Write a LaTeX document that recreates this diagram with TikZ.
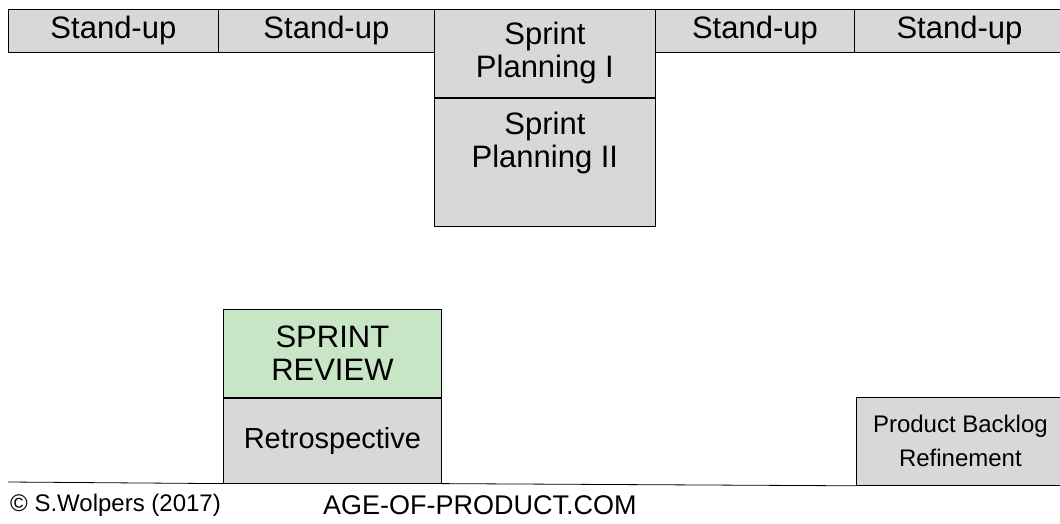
\documentclass[tikz,border=0pt]{standalone}
\usepackage{fontspec}
\setmainfont{Liberation Sans}
\definecolor{lapis}{RGB}{216,216,216}
\definecolor{verde}{RGB}{200,229,198}
\tikzset{
    caixa/.style={draw, line width=0.8pt, fill=lapis, anchor=north west,
        inner sep=0pt, align=center, font=\fontsize{31}{33}\selectfont},
    rodape/.style={anchor=west, inner sep=0pt, font=\fontsize{24}{26}\selectfont}
}
\begin{document}
\begin{tikzpicture}[x=1pt, y=-1pt]
        \useasboundingbox (0,0) rectangle (1060,523);

        % linha de stand-ups
        \foreach \nome/\x/\w in {
            su1/8/210,
            su2/218/216,
            su3/655/199,
            su4/854/210
        }{
            \node[caixa, minimum width=\w, minimum height=43] (\nome) at (\x,9) {Stand-up};
        }

        % sprint planning
        \node[caixa, minimum width=221, minimum height=88] (sp1) at (434,9) {Sprint\\Planning I};
        \node[caixa, minimum width=221, minimum height=128] (sp2) at (sp1.south west) {Sprint\\Planning II\\[12pt]};

        % review e retro
        \node[caixa, fill=verde, minimum width=218, minimum height=88] (rev) at (223,309) {SPRINT\\REVIEW};
        \node[caixa, minimum width=218, minimum height=85, font=\fontsize{29}{31}\selectfont] (retro) at (rev.south west) {Retrospective};
        \node[caixa, minimum width=208, minimum height=88, font=\fontsize{24}{34}\selectfont] (pbr) at (856,397) {Product Backlog\\Refinement};

        % linha de base
        \coordinate (base) at (8,482);
        \draw[line width=0.8pt] (base) -- (retro.south west);
        \draw[line width=0.8pt] (retro.south east) -- (pbr.south west);

        % rodapé
        \node[rodape] (copy) at (10,505) {© S.Wolpers (2017)};
        \node[rodape, font=\fontsize{27}{29}\selectfont] (site) at (323,505) {AGE-OF-PRODUCT.COM};
    \end{tikzpicture}
\end{document}
